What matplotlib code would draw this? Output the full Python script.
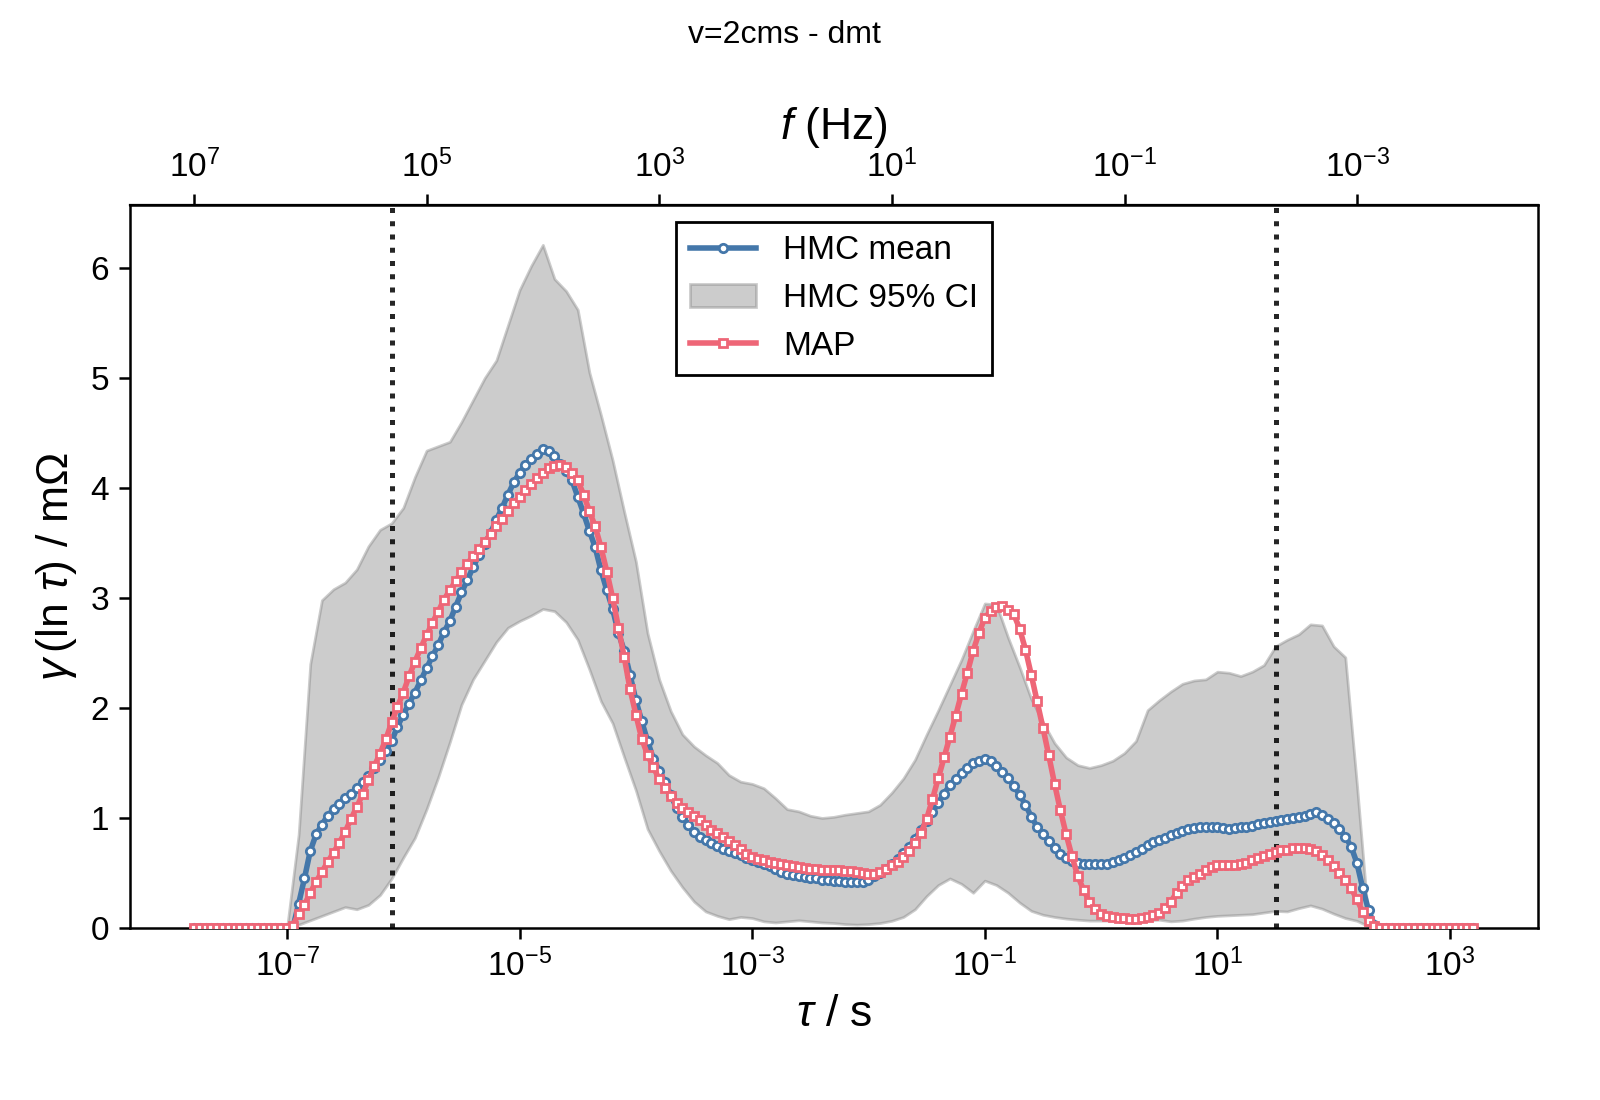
import numpy as np
import matplotlib.pyplot as plt
from matplotlib.ticker import NullLocator

plt.rcParams['font.family'] = ['Liberation Sans', 'DejaVu Sans']
plt.rcParams['mathtext.fontset'] = 'custom'
plt.rcParams['mathtext.rm'] = 'Liberation Sans'
plt.rcParams['mathtext.it'] = 'Liberation Sans:italic'
plt.rcParams['mathtext.bf'] = 'Liberation Sans:bold'

# tau grid of the DRT (20 points per decade), coarser grid for the CI band
tau = np.logspace(-7.8, 3.2, 221)
tau_ci = np.logspace(-7.8, 3.2, 111)

# measured frequency range (Hz) -> dotted lines
f_min, f_max = 5e-3, 2e5

# gamma (mOhm), one row = half a decade
hmc_mean = [
    0, 0, 0, 0, 0, 0, 0, 0, 0, 0,
    0, 0, 0, 0, 0, 0, 0, 0, 0.22, 0.45,
    0.70, 0.85, 0.94, 1.02, 1.08, 1.13, 1.18, 1.22, 1.27, 1.33,
    1.38, 1.45, 1.53, 1.61, 1.70, 1.83, 1.94, 2.04, 2.14, 2.25,
    2.36, 2.47, 2.57, 2.69, 2.79, 2.92, 3.05, 3.16, 3.28, 3.39,
    3.49, 3.59, 3.71, 3.82, 3.94, 4.05, 4.14, 4.21, 4.26, 4.31,
    4.35, 4.34, 4.29, 4.22, 4.15, 4.07, 3.92, 3.77, 3.61, 3.46,
    3.25, 3.07, 2.90, 2.68, 2.52, 2.30, 2.07, 1.88, 1.70, 1.54,
    1.43, 1.33, 1.21, 1.09, 1.01, 0.94, 0.875, 0.83, 0.80, 0.77,
    0.745, 0.72, 0.70, 0.68, 0.66, 0.64, 0.62, 0.60, 0.58, 0.56,
    0.535, 0.51, 0.495, 0.48, 0.47, 0.46, 0.455, 0.45, 0.44, 0.435,
    0.43, 0.43, 0.42, 0.42, 0.42, 0.42, 0.44, 0.47, 0.50, 0.535,
    0.58, 0.63, 0.68, 0.74, 0.81, 0.89, 0.97, 1.05, 1.14, 1.22,
    1.30, 1.355, 1.41, 1.45, 1.50, 1.52, 1.54, 1.52, 1.475, 1.42,
    1.36, 1.29, 1.21, 1.12, 1.01, 0.92, 0.85, 0.79, 0.73, 0.675,
    0.635, 0.61, 0.595, 0.58, 0.58, 0.58, 0.58, 0.58, 0.60, 0.62,
    0.64, 0.665, 0.69, 0.72, 0.755, 0.78, 0.80, 0.82, 0.845, 0.865,
    0.88, 0.90, 0.905, 0.915, 0.92, 0.92, 0.915, 0.91, 0.90, 0.905,
    0.915, 0.92, 0.93, 0.945, 0.95, 0.96, 0.975, 0.98, 0.99, 1.00,
    1.005, 1.015, 1.035, 1.05, 1.03, 0.995, 0.955, 0.90, 0.83, 0.74,
    0.59, 0.36, 0.16, 0.03, 0, 0, 0, 0, 0, 0,
    0, 0, 0, 0, 0, 0, 0, 0, 0, 0,
    0,
]

gamma_map = [
    0, 0, 0, 0, 0, 0, 0, 0, 0, 0,
    0, 0, 0, 0, 0, 0, 0, 0.02, 0.13, 0.21,
    0.32, 0.42, 0.51, 0.60, 0.685, 0.775, 0.875, 0.99, 1.10, 1.215,
    1.345, 1.47, 1.585, 1.715, 1.87, 2.01, 2.14, 2.29, 2.42, 2.545,
    2.66, 2.775, 2.875, 2.985, 3.07, 3.155, 3.235, 3.31, 3.38, 3.445,
    3.51, 3.58, 3.655, 3.72, 3.79, 3.86, 3.92, 3.985, 4.035, 4.09,
    4.14, 4.18, 4.20, 4.21, 4.19, 4.14, 4.07, 3.94, 3.79, 3.65,
    3.46, 3.24, 3.00, 2.73, 2.46, 2.17, 1.94, 1.72, 1.575, 1.46,
    1.355, 1.27, 1.20, 1.14, 1.09, 1.05, 1.02, 0.98, 0.935, 0.895,
    0.86, 0.825, 0.795, 0.755, 0.72, 0.675, 0.645, 0.625, 0.615, 0.60,
    0.595, 0.586, 0.575, 0.565, 0.555, 0.545, 0.54, 0.535, 0.53, 0.53,
    0.53, 0.525, 0.52, 0.515, 0.51, 0.50, 0.495, 0.495, 0.51, 0.54,
    0.57, 0.60, 0.645, 0.70, 0.77, 0.86, 0.99, 1.17, 1.36, 1.55,
    1.74, 1.93, 2.13, 2.32, 2.52, 2.68, 2.82, 2.88, 2.92, 2.93,
    2.89, 2.85, 2.72, 2.53, 2.30, 2.06, 1.82, 1.57, 1.31, 1.07,
    0.85, 0.65, 0.47, 0.345, 0.24, 0.17, 0.13, 0.11, 0.10, 0.095,
    0.09, 0.085, 0.085, 0.087, 0.10, 0.115, 0.14, 0.18, 0.24, 0.32,
    0.38, 0.435, 0.465, 0.495, 0.525, 0.555, 0.57, 0.575, 0.575, 0.575,
    0.58, 0.59, 0.615, 0.635, 0.65, 0.67, 0.695, 0.705, 0.71, 0.725,
    0.727, 0.727, 0.72, 0.70, 0.66, 0.62, 0.565, 0.50, 0.435, 0.36,
    0.26, 0.145, 0.06, 0.015, 0, 0, 0, 0, 0, 0,
    0, 0, 0, 0, 0, 0, 0, 0, 0, 0,
    0,
]

# 95% credible interval, one row = one decade
ci_hi = [
    0, 0, 0, 0, 0, 0, 0, 0, 0, 0.85,
    2.40, 2.98, 3.08, 3.14, 3.26, 3.47, 3.62, 3.68, 3.82, 4.10,
    4.34, 4.38, 4.42, 4.60, 4.80, 5.00, 5.16, 5.48, 5.80, 6.02,
    6.21, 5.90, 5.79, 5.62, 5.05, 4.66, 4.25, 3.78, 3.33, 2.68,
    2.26, 1.97, 1.76, 1.65, 1.57, 1.50, 1.39, 1.33, 1.31, 1.27,
    1.18, 1.08, 1.06, 1.02, 1.00, 1.01, 1.03, 1.045, 1.06, 1.12,
    1.23, 1.36, 1.53, 1.76, 1.98, 2.21, 2.44, 2.70, 2.95, 2.94,
    2.64, 2.37, 2.08, 1.87, 1.68, 1.55, 1.48, 1.455, 1.48, 1.52,
    1.59, 1.70, 1.98, 2.07, 2.15, 2.22, 2.25, 2.26, 2.33, 2.32,
    2.29, 2.33, 2.39, 2.56, 2.62, 2.67, 2.76, 2.75, 2.56, 2.46,
    1.30, 0.05, 0, 0, 0, 0, 0, 0, 0, 0,
    0,
]

ci_lo = [
    0, 0, 0, 0, 0, 0, 0, 0, 0, 0.03,
    0.07, 0.11, 0.15, 0.19, 0.17, 0.21, 0.30, 0.45, 0.64, 0.82,
    1.08, 1.37, 1.69, 2.03, 2.26, 2.43, 2.60, 2.73, 2.79, 2.84,
    2.90, 2.88, 2.78, 2.62, 2.35, 2.06, 1.86, 1.55, 1.25, 0.90,
    0.70, 0.52, 0.37, 0.24, 0.15, 0.11, 0.08, 0.10, 0.09, 0.06,
    0.05, 0.06, 0.07, 0.06, 0.05, 0.045, 0.035, 0.03, 0.035, 0.045,
    0.065, 0.10, 0.17, 0.29, 0.39, 0.45, 0.40, 0.32, 0.43, 0.39,
    0.32, 0.23, 0.155, 0.12, 0.10, 0.085, 0.075, 0.067, 0.067, 0.067,
    0.067, 0.067, 0.07, 0.075, 0.06, 0.067, 0.085, 0.10, 0.11, 0.115,
    0.12, 0.125, 0.14, 0.155, 0.15, 0.18, 0.205, 0.175, 0.13, 0.09,
    0.065, 0.015, 0, 0, 0, 0, 0, 0, 0, 0,
    0,
]


def tau_to_f(t):
    t = np.asarray(t, dtype=float)
    with np.errstate(divide='ignore'):
        return 1.0 / (2 * np.pi * t)


fig = plt.figure(figsize=(8, 5.5), dpi=200)
ax = fig.add_axes([0.08125, 0.1564, 0.88, 0.657])

band = ax.fill_between(tau_ci, ci_lo, ci_hi, color='grey', alpha=0.4,
                       zorder=1, label='HMC 95% CI')
for f in (f_max, f_min):
    ax.axvline(1 / (2 * np.pi * f), color='k', ls=':', lw=1.8, alpha=0.85,
               zorder=1.5)
l_mean, = ax.plot(tau, hmc_mean, '-o', color='#4477AA', lw=2.0, ms=3.0,
                  mfc='white', mew=1.0, zorder=2, label='HMC mean')
l_map, = ax.plot(tau, gamma_map, '-s', color='#EE6677', lw=2.0, ms=2.8,
                 mfc='white', mew=1.0, zorder=3, label='MAP')

ax.set_xscale('log')
ax.set_xlim(10 ** -8.35, 10 ** 3.757)
ax.set_ylim(0, 6.57)
ax.set_xticks([1e-7, 1e-5, 1e-3, 1e-1, 1e1, 1e3])
ax.xaxis.set_minor_locator(NullLocator())
ax.set_yticks(range(7))
ax.tick_params(labelsize=12, length=4, width=0.9)
ax.set_xlabel(r'$\tau$ / s', fontsize=16)
ax.set_ylabel(r'$\gamma\,(\ln\,\tau)$ / m$\Omega$', fontsize=16)
for s in ax.spines.values():
    s.set_linewidth(0.9)

secax = ax.secondary_xaxis('top', functions=(tau_to_f, tau_to_f))
secax.set_xticks([1e7, 1e5, 1e3, 1e1, 1e-1, 1e-3])
secax.xaxis.set_minor_locator(NullLocator())
secax.tick_params(labelsize=12, length=4, width=0.9)
secax.set_xlabel(r'$f$ (Hz)', fontsize=16)

ax.legend([l_mean, band, l_map], ['HMC mean', 'HMC 95% CI', 'MAP'],
          loc='upper center', fontsize=12, fancybox=False,
          edgecolor='k', framealpha=1)

fig.text(0.49, 0.968, 'v=2cms - dmt', ha='center', va='center', fontsize=11.5)

fig.savefig('out.png', dpi=200)
